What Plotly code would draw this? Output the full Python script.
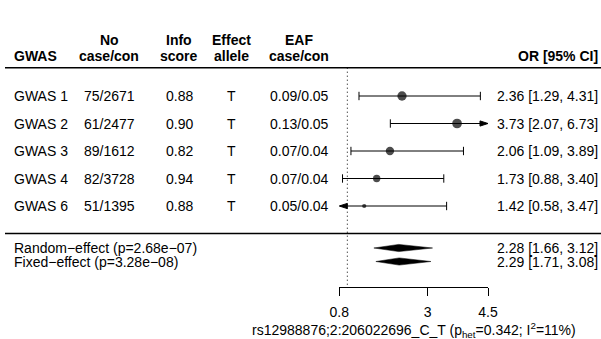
import numpy as np
import plotly.graph_objects as go

# ---------------- data ----------------
studies = ["GWAS 1", "GWAS 2", "GWAS 3", "GWAS 4", "GWAS 6"]
n_case_con = ["75/2671", "61/2477", "89/1612", "82/3728", "51/1395"]
info_score = ["0.88", "0.90", "0.82", "0.94", "0.88"]
effect_allele = ["T", "T", "T", "T", "T"]
eaf_case_con = ["0.09/0.05", "0.13/0.05", "0.07/0.04", "0.07/0.04", "0.05/0.04"]
or_est = [2.36, 3.73, 2.06, 1.73, 1.42]
or_lo = [1.29, 2.07, 1.09, 0.88, 0.58]
or_hi = [4.31, 6.73, 3.89, 3.40, 3.47]

pooled_labels = ["Random\u2212effect (p=2.68e\u221207)", "Fixed\u2212effect (p=3.28e\u221208)"]
pooled_est = [2.28, 2.29]
pooled_lo = [1.66, 1.71]
pooled_hi = [3.12, 3.08]

tick_vals = [0.8, 3, 4.5]
tick_text = ["0.8", "3", "4.5"]
x_min, x_max = 0.8, 4.5
ref_line = 1.0
title = "rs12988876;2:206022696_C_T (p<sub>het</sub>=0.342; I<sup>2</sup>=11%)"

# ---------------- layout constants ----------------
W, H = 601, 339
FONT = "Liberation Sans, Arial, Helvetica, sans-serif"
FS = 14
ax_left_px, ax_right_px = 339.3, 488.0
row0, row_step = 96.0, 27.5
pooled_y = [248.0, 261.5]
hdr1_y, hdr2_y = 40.0, 56.0
rule1_y, rule2_y = 67.7, 233.5
axis_y = 286.7
col_x = {"study": 13, "n": 109, "info": 179, "allele": 231, "eaf": 299, "or": 599}

def px(x):
    return x / W

row_y = [row0 + i * row_step for i in range(len(studies))]
px_per_unit = (ax_right_px - ax_left_px) / (x_max - x_min)

fig = go.Figure()

# CI lines (clipped to axis range)
lx, ly = [], []
capx, capy = [], []
for lo, hi, y in zip(or_lo, or_hi, row_y):
    a, b = max(lo, x_min), min(hi, x_max)
    lx += [a, b, None]
    ly += [y, y, None]
    if lo >= x_min:
        capx.append(lo); capy.append(y)
    if hi <= x_max:
        capx.append(hi); capy.append(y)
fig.add_trace(go.Scatter(x=lx, y=ly, mode="lines", line=dict(color="black", width=1),
                         hoverinfo="skip", showlegend=False, cliponaxis=False))
fig.add_trace(go.Scatter(x=capx, y=capy, mode="markers",
                         marker=dict(symbol="line-ns", size=6, line=dict(color="black", width=1)),
                         hoverinfo="skip", showlegend=False, cliponaxis=False))

# arrows where the CI leaves the axis range
arr_len = 8 / px_per_unit
arr_h = 2.6
for lo, hi, y in zip(or_lo, or_hi, row_y):
    if hi > x_max:
        fig.add_trace(go.Scatter(x=[x_max, x_max - arr_len, x_max - arr_len, x_max],
                                 y=[y, y - arr_h, y + arr_h, y], mode="lines", fill="toself",
                                 fillcolor="black", line=dict(color="black", width=1),
                                 hoverinfo="skip", showlegend=False))
    if lo < x_min:
        fig.add_trace(go.Scatter(x=[x_min, x_min + arr_len, x_min + arr_len, x_min],
                                 y=[y, y - arr_h, y + arr_h, y], mode="lines", fill="toself",
                                 fillcolor="black", line=dict(color="black", width=1),
                                 hoverinfo="skip", showlegend=False, cliponaxis=False))

# point estimates, size by inverse-variance weight
se = (np.log(or_hi) - np.log(or_lo)) / (2 * 1.96)
wts = 1 / se ** 2
sizes = 0.88 * wts
fig.add_trace(go.Scatter(x=or_est, y=row_y, mode="markers",
                         marker=dict(symbol="circle", size=sizes, color="black", line=dict(width=0)),
                         hoverinfo="skip", showlegend=False, cliponaxis=False))

# pooled diamonds
dh = 3.6
for e, lo, hi, y in zip(pooled_est, pooled_lo, pooled_hi, pooled_y):
    fig.add_trace(go.Scatter(x=[lo, e, hi, e, lo], y=[y, y - dh, y, y + dh, y], mode="lines",
                             fill="toself", fillcolor="black", line=dict(color="black", width=0.5),
                             hoverinfo="skip", showlegend=False))

# reference dotted line
fig.add_shape(type="line", xref="x", yref="y", x0=ref_line, x1=ref_line, y0=rule1_y, y1=axis_y - 2,
              line=dict(color="black", width=1, dash="1px,3px"))

# horizontal rules
for yy in (rule1_y, rule2_y):
    fig.add_shape(type="line", xref="paper", yref="y", x0=px(5), x1=1, y0=yy, y1=yy,
                  line=dict(color="black", width=1.6))

ann = []
def txt(x, y, s, anchor="center", bold=False, size=FS, yanchor="middle"):
    ann.append(dict(x=px(x), y=y, xref="paper", yref="y", text=("<b>%s</b>" % s) if bold else s,
                    showarrow=False, xanchor=anchor, yanchor=yanchor, align=anchor,
                    borderpad=0, font=dict(family=FONT, size=size, color="black")))

# header
txt(col_x["study"], hdr2_y, "GWAS", "left", True)
txt(col_x["n"], hdr1_y, "No", bold=True); txt(col_x["n"], hdr2_y, "case/con", bold=True)
txt(col_x["info"], hdr1_y, "Info", bold=True); txt(col_x["info"], hdr2_y, "score", bold=True)
txt(col_x["allele"], hdr1_y, "Effect", bold=True); txt(col_x["allele"], hdr2_y, "allele", bold=True)
txt(col_x["eaf"], hdr1_y, "EAF", bold=True); txt(col_x["eaf"], hdr2_y, "case/con", bold=True)
txt(col_x["or"], hdr2_y, "OR [95% CI]", "right", True)

for i, y in enumerate(row_y):
    txt(col_x["study"], y, studies[i], "left")
    txt(col_x["n"], y, n_case_con[i])
    txt(col_x["info"], y, info_score[i])
    txt(col_x["allele"], y, effect_allele[i])
    txt(col_x["eaf"], y, eaf_case_con[i])
    txt(col_x["or"], y, "%.2f [%.2f, %.2f]" % (or_est[i], or_lo[i], or_hi[i]), "right")

for i, y in enumerate(pooled_y):
    txt(col_x["study"], y, pooled_labels[i], "left")
    txt(col_x["or"], y, "%.2f [%.2f, %.2f]" % (pooled_est[i], pooled_lo[i], pooled_hi[i]), "right")

txt((ax_left_px + ax_right_px) / 2, 330.0, title)

fig.update_layout(
    template="none",
    width=W, height=H, margin=dict(l=0, r=0, t=0, b=0, pad=0, autoexpand=False),
    paper_bgcolor="white", plot_bgcolor="white",
    annotations=ann,
    font=dict(family=FONT, size=FS, color="black"),
    xaxis=dict(domain=[px(ax_left_px), px(ax_right_px)], range=[x_min, x_max],
               tickvals=tick_vals, ticktext=tick_text, ticks="outside", ticklen=8,
               tickwidth=1, tickcolor="black", showline=True, linecolor="black", linewidth=1,
               showgrid=False, zeroline=False, anchor="free", position=(H - axis_y) / H,
               ticklabelstandoff=4, automargin=False,
               tickfont=dict(family=FONT, size=FS, color="black")),
    yaxis=dict(domain=[0, 1], range=[H, 0], visible=False, showgrid=False, zeroline=False,
               automargin=False),
)

fig.write_html("out.html")
